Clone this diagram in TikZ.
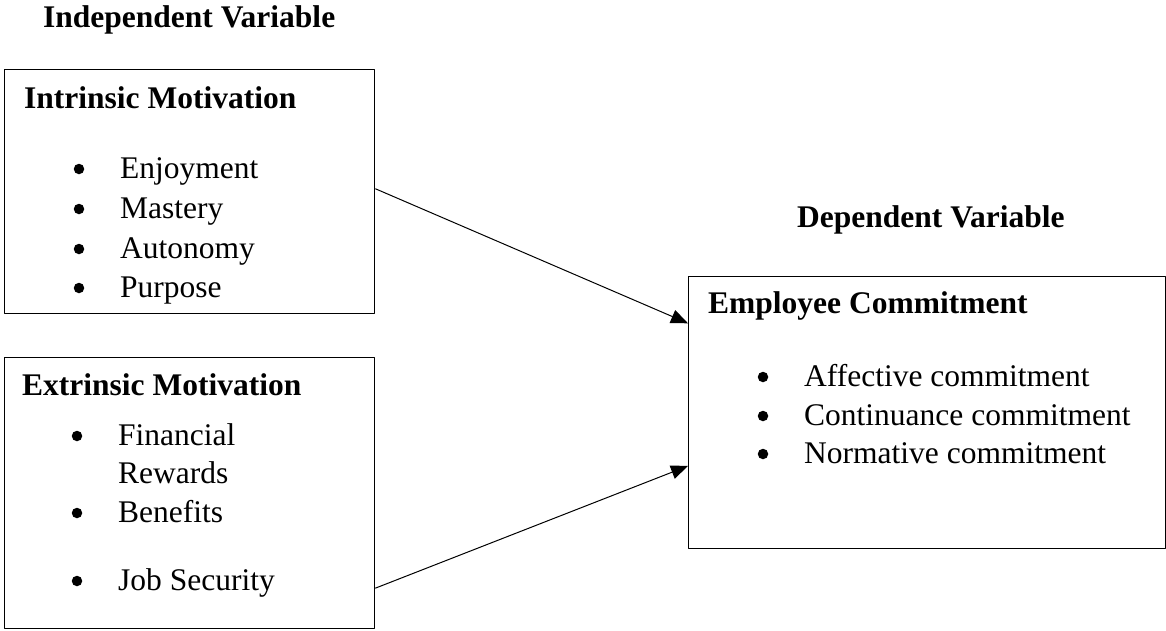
\documentclass[tikz,border=0pt]{standalone}
\usepackage{fontspec}
\setmainfont{Liberation Serif}
\usetikzlibrary{calc,arrows.meta}
\begin{document}
\begin{tikzpicture}[x=1pt, y=-1pt, line join=round, >={Triangle[length=17pt,width=14pt]},
	every node/.style={inner sep=0pt, font=\fontsize{31.5}{38}\selectfont},
	box/.style={draw, line width=1.3pt, anchor=north west},
	head/.style={anchor=base west, font=\fontsize{31.5}{38}\selectfont\bfseries},
	itm/.style={anchor=base west},
	dot/.style={circle, fill, minimum size=10.5pt}]
	\useasboundingbox (0,0) rectangle (1166,630);
	% headings
	\node[head] (indep) at (43,27) {Independent Variable};
	\node[head] (dep) at (797,227) {Dependent Variable};
	% boxes
	\node[box, minimum width=370, minimum height=244] (intr) at (4,69) {};
	\node[box, minimum width=370, minimum height=271] (extr) at (4,357) {};
	\node[box, minimum width=477, minimum height=272] (emp) at (688,276) {};
	% intrinsic
	\node[head] (intrT) at (24,108) {Intrinsic Motivation};
	\foreach \t/\y [count=\i] in {Enjoyment/178, Mastery/218, Autonomy/258, Purpose/297}{
		\node[dot] (intrB\i) at (79,\y-9) {};
		\node[itm] (intrI\i) at (120,\y) {\t};
	}
	% extrinsic
	\node[head] (extrT) at (22,395) {Extrinsic Motivation};
	\foreach \t/\y [count=\i] in {Financial/445, Benefits/522, Job Security/590}{
		\node[dot] (extrB\i) at (77,\y-9) {};
		\node[itm] (extrI\i) at (118,\y) {\t};
	}
	\node[itm] (extrI4) at (118,483) {Rewards};
	% employee commitment
	\node[head] (empT) at (708,313) {Employee Commitment};
	\foreach \t/\y [count=\i] in {Affective commitment/386, Continuance commitment/425, Normative commitment/463}{
		\node[dot] (empB\i) at (763,\y-9) {};
		\node[itm] (empI\i) at (804,\y) {\t};
	}
	% arrows
	\draw[->, line width=1pt] ($(intr.north east)!0.488!(intr.south east)$) -- ($(emp.north west)!0.173!(emp.south west)$);
	\draw[->, line width=1pt] ($(extr.north east)!0.849!(extr.south east)$) -- ($(emp.north west)!0.695!(emp.south west)$);
\end{tikzpicture}
\end{document}
